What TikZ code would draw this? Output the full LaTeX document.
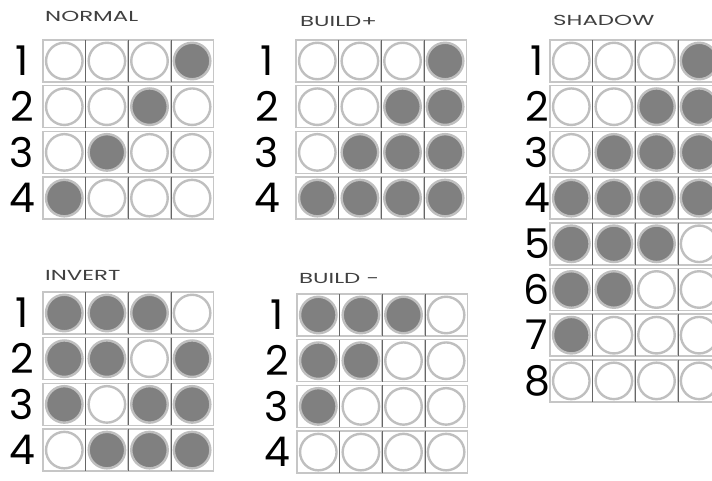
\documentclass[tikz,border=0pt]{standalone}
\usepackage{fontspec}
\setmainfont{Poppins}
\usetikzlibrary{positioning}

% titles are set wide
\newcommand\widetext[1]{\scalebox{1.58}[1]{#1}}

% one panel: name, left, top, x of the row numbers, rows of 0/1
\newcommand\ledgrid[5]{%
  \foreach \bits [count=\r] in {#5} {
    \node[num] (#1-n\r) at (#4,#3+\r*45.7-45.7+21) {\r};
    \foreach \b [count=\c] in \bits {
      \node[cell] (#1-\r-\c) at (#2+\c*42.6-21.3,#3+\r*45.7-45.7+21) {};
      \node[b\b] (#1-d\r-\c) at (#1-\r-\c) {};
    }
    \foreach \c in {1,2,3}
      \draw[divider] (#1-\r-\c.north east) -- (#1-\r-\c.south east);
  }}

\begin{document}
\begin{tikzpicture}[x=1pt,y=-1pt,
    cell/.style={draw=gray!45,line width=1.5pt,minimum width=42.6pt,minimum height=42pt,inner sep=0pt,outer sep=0pt},
    divider/.style={draw=black!60,line width=0.6pt},
    b0/.style={circle,draw=gray!50,line width=2.4pt,minimum size=36.5pt,inner sep=0pt,fill=white},
    b1/.style={b0,fill=gray},
    title/.style={font=\fontsize{14.5}{14.5}\selectfont,text=black!75,anchor=west,inner sep=0pt},
    num/.style={font=\fontsize{41}{41}\selectfont,inner sep=0pt}]
  \useasboundingbox (0,0) rectangle (712,481);
  \clip (0,0) rectangle (712,481);

  \node[title] (normal) at (45,16.5) {\widetext{NORMAL}};
  \ledgrid{nor}{43}{40}{22}{{0,0,0,1},{0,0,1,0},{0,1,0,0},{1,0,0,0}}

  \node[title] (buildp) at (300,21) {\widetext{BUILD+}};
  \ledgrid{bp}{296}{40}{267}{{0,0,0,1},{0,0,1,1},{0,1,1,1},{1,1,1,1}}

  \node[title] (shadow) at (553,20) {\widetext{SHADOW}};
  \ledgrid{sh}{550}{40}{537}{{0,0,0,1},{0,0,1,1},{0,1,1,1},{1,1,1,1},{1,1,1,0},{1,1,0,0},{1,0,0,0},{0,0,0,0}}

  \node[title] (invert) at (45,275) {\widetext{INVERT}};
  \ledgrid{inv}{43}{292}{22}{{1,1,1,0},{1,1,0,1},{1,0,1,1},{0,1,1,1}}

  \node[title] (buildm) at (299,278) {\widetext{BUILD -}};
  \ledgrid{bm}{297}{294}{277}{{1,1,1,0},{1,1,0,0},{1,0,0,0},{0,0,0,0}}
\end{tikzpicture}
\end{document}
